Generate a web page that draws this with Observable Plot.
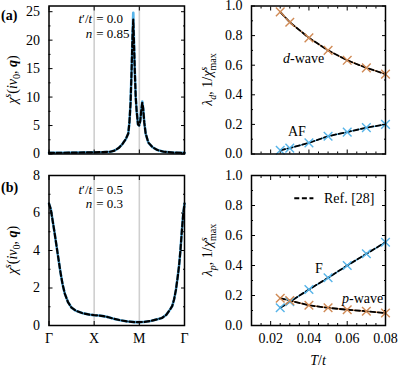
<!DOCTYPE html>
<html><head><meta charset="utf-8">
<script src="https://cdn.jsdelivr.net/npm/d3@7"></script>
<script src="https://cdn.jsdelivr.net/npm/@observablehq/plot@0.6"></script>
<style>
body{margin:0;background:#fff;}
#wrap{position:relative;width:399px;height:368px;overflow:hidden;background:#fff;}
#wrap svg{position:absolute;left:0;top:0;}
</style></head><body><div id="wrap"></div>
<script>
// ---------- data ----------
const pathTicks = [0, 1, 2, 3];
const pathLabels = ["Γ", "X", "M", "Γ"];

// panel (a): chi^s along Γ-X-M-Γ, t'/t = 0.0, n = 0.85
const sA    = [0, 0.3, 0.6, 1.0, 1.2, 1.36, 1.45, 1.55, 1.62, 1.7, 1.755, 1.78, 1.806, 1.83, 1.85, 1.866, 1.88, 1.9, 1.92, 1.94, 1.97, 1.995, 2.02, 2.045, 2.065, 2.085, 2.11, 2.14, 2.2, 2.29, 2.4, 2.54, 2.75, 3.0];
const chiA  = [0.2, 0.22, 0.25, 0.3, 0.33, 0.4, 0.6, 1.1, 1.7, 2.6, 3.6, 5.5, 9.0, 15, 21, 24.8, 20, 14.5, 10, 7.6, 5.2, 5.0, 5.8, 7.8, 9.2, 8.0, 5.5, 3.6, 2.0, 1.2, 0.7, 0.4, 0.25, 0.2];
const chiARef = [0.2, 0.22, 0.25, 0.3, 0.33, 0.4, 0.6, 1.1, 1.7, 2.6, 3.6, 5.5, 9.0, 15, 21, 23.6, 20, 14.5, 10, 7.6, 5.2, 5.0, 5.8, 7.8, 9.0, 8.0, 5.5, 3.6, 2.0, 1.2, 0.7, 0.4, 0.25, 0.2];

// panel (b): t'/t = 0.5, n = 0.3
const sB   = [0, 0.04, 0.08, 0.12, 0.16, 0.2, 0.25, 0.3, 0.35, 0.42, 0.5, 0.6, 0.75, 0.9, 1.0, 1.1, 1.2, 1.3, 1.45, 1.6, 1.75, 1.9, 2.0, 2.1, 2.25, 2.4, 2.5, 2.6, 2.68, 2.73, 2.77, 2.81, 2.85, 2.88, 2.91, 2.94, 2.97, 3.0];
const chiB = [6.5, 6.2, 5.6, 5.0, 4.35, 3.7, 2.9, 2.2, 1.7, 1.25, 0.95, 0.78, 0.65, 0.58, 0.55, 0.53, 0.5, 0.45, 0.35, 0.27, 0.21, 0.18, 0.18, 0.19, 0.24, 0.33, 0.4, 0.58, 0.85, 1.05, 1.4, 1.9, 2.6, 3.2, 4.0, 5.0, 5.9, 6.5];

// right panels vs temperature
const T        = [0.025, 0.03, 0.04, 0.05, 0.06, 0.07, 0.08];
const lambdaD  = [0.96, 0.89, 0.785, 0.70, 0.633, 0.582, 0.54];
const invChiAF = [0.025, 0.04, 0.075, 0.12, 0.148, 0.178, 0.20];
const lambdaP  = [0.182, 0.166, 0.135, 0.118, 0.105, 0.095, 0.083];
const invChiF  = [0.118, 0.158, 0.24, 0.318, 0.40, 0.478, 0.555];

// ticks
const yTicksA = [0, 5, 10, 15, 20, 25];
const yMinorA = [2.5, 7.5, 12.5, 17.5, 22.5];
const yTicksB = [0, 2, 4, 6, 8];
const yMinorB = [1, 3, 5, 7];
const yTicksR = [0, 0.2, 0.4, 0.6, 0.8, 1.0];
const yMinorR = [0.1, 0.3, 0.5, 0.7, 0.9];
const xTicksT = [0.02, 0.04, 0.06, 0.08];
const xMinorT = [0.015, 0.025, 0.03, 0.035, 0.045, 0.05, 0.055, 0.065, 0.07, 0.075];

// ---------- style ----------
const FONT = "'Liberation Serif', 'DejaVu Serif', serif";
const FS = 14;
const BLUE = "#56b4e9", ORANGE = "#d08a55", GRAY = "#cfcfcf";
const DASH = "5,2.6";
const W = 399, H = 368;
const colL = {x0: 48.5, x1: 184}, colR = {x0: 251, x1: 385};
const rowT = {y0: 5.5, y1: 153.5}, rowB = {y0: 175, y1: 325};

const none = () => "";
function axes({xMajor, xMinor = [], yMajor, yMinor = [], xFmt, yFmt}) {
  const M = 4, m = 2;
  const out = [
    Plot.axisY({anchor: "left", ticks: yMajor, tickSize: M, dx: M, tickPadding: 9, tickFormat: yFmt, label: null}),
    Plot.axisY({anchor: "right", ticks: yMajor, tickSize: M, dx: -M, tickFormat: none, label: null}),
    Plot.axisX({anchor: "bottom", ticks: xMajor, tickSize: M, dy: -M, tickPadding: 8, tickFormat: xFmt || none, label: null}),
    Plot.axisX({anchor: "top", ticks: xMajor, tickSize: M, dy: M, tickFormat: none, label: null})
  ];
  if (yMinor.length) out.push(
    Plot.axisY({anchor: "left", ticks: yMinor, tickSize: m, dx: m, tickFormat: none, label: null}),
    Plot.axisY({anchor: "right", ticks: yMinor, tickSize: m, dx: -m, tickFormat: none, label: null}));
  if (xMinor.length) out.push(
    Plot.axisX({anchor: "bottom", ticks: xMinor, tickSize: m, dy: -m, tickFormat: none, label: null}),
    Plot.axisX({anchor: "top", ticks: xMinor, tickSize: m, dy: m, tickFormat: none, label: null}));
  return out;
}
function panel(col, row, o) {
  return Plot.plot({
    width: W, height: H,
    marginLeft: col.x0, marginRight: W - col.x1, marginTop: row.y0, marginBottom: H - row.y1,
    x: {domain: o.xDomain}, y: {domain: o.yDomain},
    style: {fontFamily: FONT, fontSize: FS + "px", color: "#000", background: "none", overflow: "visible"},
    marks: [...o.marks, ...axes(o), Plot.frame({stroke: "#000", strokeWidth: 1.5})]
  });
}
const zipXY = (xs, ys) => xs.map((x, i) => ({x, y: ys[i]}));
const pathFmt = d => pathLabels[pathTicks.indexOf(d)];

function chiPanel(row, s, chi, chiRef, yMax, yMajor, yMinor, showX) {
  return panel(colL, row, {
    xDomain: [0, 3], yDomain: [0, yMax],
    xMajor: pathTicks, yMajor, yMinor, xFmt: showX ? pathFmt : null, yFmt: d => d,
    marks: [
      Plot.ruleX(pathTicks.slice(1, 3), {stroke: GRAY, strokeWidth: 1.6}),
      Plot.line(zipXY(s, chi), {x: "x", y: "y", stroke: BLUE, strokeWidth: 2.6}),
      Plot.line(zipXY(s, chiRef), {x: "x", y: "y", stroke: "#000", strokeWidth: 2.2, strokeDasharray: DASH})
    ]
  });
}
function tPanel(row, series, showX) {
  const marks = [];
  for (const [vals, col] of series) marks.push(Plot.line(zipXY(T, vals), {x: "x", y: "y", stroke: col, strokeWidth: 1.5}));
  for (const [vals] of series) marks.push(Plot.line(zipXY(T, vals), {x: "x", y: "y", stroke: "#000", strokeWidth: 1.8, strokeDasharray: DASH}));
  for (const [vals, col] of series) marks.push(Plot.dot(zipXY(T, vals), {x: "x", y: "y", symbol: "times", r: 4, stroke: col, strokeWidth: 1.4}));
  return panel(colR, row, {
    xDomain: [0.01, 0.08], yDomain: [0, 1],
    xMajor: xTicksT, xMinor: xMinorT, yMajor: yTicksR, yMinor: yMinorR,
    xFmt: showX ? d3.format(".2f") : null, yFmt: d3.format(".1f"),
    marks
  });
}

const wrap = document.getElementById("wrap");
const pA = chiPanel(rowT, sA, chiA, chiARef, 26, yTicksA, yMinorA, false);
const pB = chiPanel(rowB, sB, chiB, chiB, 8, yTicksB, yMinorB, true);
const pC = tPanel(rowT, [[lambdaD, ORANGE], [invChiAF, BLUE]], false);
const pD = tPanel(rowB, [[invChiF, BLUE], [lambdaP, ORANGE]], true);
for (const p of [pA, pB, pC, pD]) wrap.appendChild(p);

// ---------- rich text overlay ----------
const ov = d3.select(wrap).append("svg").attr("width", W).attr("height", H)
  .style("font-family", FONT).style("font-size", FS + "px");

function rich(x, y, segs, {anchor = "start", rotate = 0, size = FS, weight = null} = {}) {
  const t = ov.append("text")
    .attr("transform", `translate(${x},${y})` + (rotate ? ` rotate(${rotate})` : ""))
    .attr("text-anchor", anchor).attr("font-size", size).attr("fill", "#000");
  if (weight) t.attr("font-weight", weight);
  let cur = 0;
  for (const s of segs) {
    const ts = t.append("tspan").text(s.t);
    const small = s.sup || s.sub;
    const target = s.sup ? -0.4 * size : s.sub ? 0.25 * size : 0;
    if (target !== cur) ts.attr("dy", target - cur);
    cur = target;
    ts.attr("font-size", small ? 0.72 * size : size);
    if (s.i) ts.attr("font-style", "italic");
    if (s.b) ts.attr("font-weight", "bold");
    if (s.dx) ts.attr("dx", s.dx);
  }
  return t;
}
const base = 0.35 * FS; // center -> baseline offset

// panel letters
rich(1, pA.scale("y").apply(26) + 10 + base, [{t: "(a)"}], {weight: "bold"});
rich(1, pB.scale("y").apply(8) + 12 + base, [{t: "(b)"}], {weight: "bold"});

// y titles
const chiTitle = [{t: "χ", i: 1}, {t: "s", sup: 1, i: 1}, {t: "("}, {t: "i", i: 1}, {t: "ν", i: 1}, {t: "0", sub: 1}, {t: ", "}, {t: "q", i: 1, b: 1}, {t: ")"}];
const midY = (p, lo, hi) => (p.scale("y").apply(lo) + p.scale("y").apply(hi)) / 2;
rich(12 + base, midY(pA, 0, 26), chiTitle, {anchor: "middle", rotate: -90});
rich(12 + base, midY(pB, 0, 8), chiTitle, {anchor: "middle", rotate: -90});
const lamTitle = sub => [{t: "λ", i: 1}, {t: sub, sub: 1, i: 1}, {t: ", 1/"}, {t: "χ", i: 1}, {t: "s", sup: 1, i: 1}, {t: "max", sub: 1, dx: -3.8}];
rich(207.5 + base, midY(pC, 0, 1), lamTitle("d"), {anchor: "middle", rotate: -90});
rich(207.5 + base, midY(pD, 0, 1), lamTitle("p"), {anchor: "middle", rotate: -90});

// x title
const xr = pD.scale("x");
rich((xr.apply(0.01) + xr.apply(0.08)) / 2, 360.5 + base, [{t: "T", i: 1}, {t: "/"}, {t: "t", i: 1}], {anchor: "middle"});

// parameter annotations in (a) and (b): lines aligned on the "=" sign
const AFS = 13;
const annot = [
  [pA, 1, [23.65, 21.1], ["0.0", "0.85"]],
  [pB, 1, [7.25, 6.47], ["0.5", "0.3"]]
];
function eqLine(xEq, y, leftSegs, rightText) {
  const n = leftSegs.reduce((a, s) => a + s.t.length, 0);
  const t = rich(0, y, [...leftSegs, {t: "= " + rightText, dx: 4}], {size: AFS});
  const wLeft = t.node().getSubStringLength(0, n);
  t.attr("transform", `translate(${xEq - 4 - wLeft},${y})`);
}
for (const [p, sEq, vs, vals] of annot) {
  const xe = p.scale("x").apply(sEq) + 2.5, sy = p.scale("y");
  eqLine(xe, sy.apply(vs[0]) + 0.35 * AFS, [{t: "t", i: 1}, {t: "′"}, {t: "/"}, {t: "t", i: 1}], vals[0]);
  eqLine(xe, sy.apply(vs[1]) + 0.35 * AFS, [{t: "n", i: 1}], vals[1]);
}

// curve labels on the right panels
const labels = [
  [pC, 0.0375, 0.647, [{t: "d", i: 1}, {t: "-wave"}]],
  [pC, 0.034, 0.148, [{t: "AF"}]],
  [pD, 0.0455, 0.378, [{t: "F"}]],
  [pD, 0.0683, 0.182, [{t: "p", i: 1}, {t: "-wave"}]]
];
for (const [p, tx, v, segs] of labels) rich(p.scale("x").apply(tx), p.scale("y").apply(v) + base, segs, {anchor: "middle"});

// legend
const legend = {t0: 0.0326, t1: 0.0426, tText: 0.0481, v: 0.845, label: "Ref. [28]"};
{
  const sx = pD.scale("x"), sy = pD.scale("y");
  ov.append("line").attr("x1", sx.apply(legend.t0)).attr("x2", sx.apply(legend.t1))
    .attr("y1", sy.apply(legend.v)).attr("y2", sy.apply(legend.v))
    .attr("stroke", "#000").attr("stroke-width", 1.8).attr("stroke-dasharray", DASH);
  rich(sx.apply(legend.tText), sy.apply(legend.v) + base, [{t: legend.label}]);
}
</script></body></html>
